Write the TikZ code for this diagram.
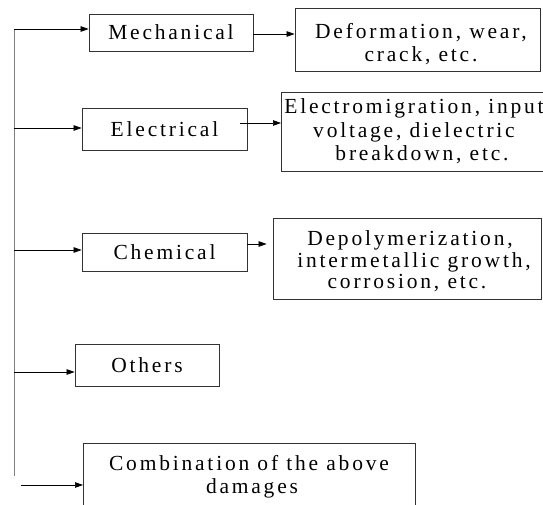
\documentclass[tikz,border=0pt]{standalone}
\usepackage{fontspec}
\setmainfont{Liberation Serif}[LetterSpace=13]
\usetikzlibrary{arrows.meta}
\begin{document}
\begin{tikzpicture}[x=1pt,y=-1pt,
  box/.style={draw=black!80, line width=0.8pt, inner sep=0pt, align=center,
              font=\fontsize{21.5}{22}\selectfont},
  txt/.style={anchor=base, inner sep=0pt, font=\fontsize{21.5}{22}\selectfont},
  arr/.style={-{Triangle[length=8pt,width=5.5pt]}, line width=0.7pt},
  trunkline/.style={draw=black!50, line width=0.8pt}]
\useasboundingbox (0,0) rectangle (543,505);
\fill[white] (0,0) rectangle (543,505);
\clip (0,0) rectangle (543,505);

% damage categories
\node[box, minimum width=164pt, minimum height=37pt] (mech) at (171,32.5) {Mechanical};
\node[box, minimum width=165pt, minimum height=42pt] (elec) at (164.5,129) {Electrical};
\node[box, minimum width=165pt, minimum height=38pt] (chem) at (164.5,252) {Chemical};
\node[box, minimum width=144pt, minimum height=42pt] (oth) at (147,365) {Others};
\node[box, anchor=north west, minimum width=332pt, minimum height=66pt] (comb) at (83,443) {};
\node[txt] (comb1) at (249,470) {Combination of the above};
\node[txt] (comb2) at (252,493) {damages};

% examples of each category
\node[box, minimum width=245pt, minimum height=63pt] (deform) at (417.5,39.5) {};
\node[txt] (deform1) at (421,39) {Deformation, wear,};
\node[txt] (deform2) at (421,62) {crack, etc.};

\node[box, anchor=north west, minimum width=267pt, minimum height=79pt] (elecd) at (281,92) {};
\node[txt] (elecd1) at (414,114) {Electromigration, input};
\node[txt] (elecd2) at (414,138) {voltage, dielectric};
\node[txt] (elecd3) at (422,161) {breakdown, etc.};

\node[box, minimum width=268pt, minimum height=81pt] (chemd) at (407,258.5) {};
\node[txt] (chemd1) at (410,245) {Depolymerization,};
\node[txt] (chemd2) at (414,267) {intermetallic growth,};
\node[txt] (chemd3) at (407,288) {corrosion, etc.};

% vertical trunk and its branches
\coordinate (ttop) at (14,29);
\coordinate (tbot) at (14,476);
\coordinate (b2) at (14,128);
\coordinate (b3) at (14,250);
\coordinate (b4) at (14,372);
\coordinate (b5) at (21,485);
\draw[trunkline] (ttop) -- (tbot);
\draw[arr] (ttop) -- (ttop -| mech.west);
\draw[arr] (b2) -- (b2 -| elec.west);
\draw[arr] (b3) -- (b3 -| chem.west);
\draw[arr] (b4) -- (b4 -| oth.west);
\draw[arr] (b5) -- (b5 -| comb.west);

% category -> examples
\coordinate (m1) at (0,34);
\coordinate (e0) at (240,123);
\coordinate (c1) at (0,244);
\draw[arr] (mech.east |- m1) -- (deform.west |- m1);
\draw[arr] (e0) -- (e0 -| elecd.west);
\draw[arr, shorten >=6pt] (chem.east |- c1) -- (chemd.west |- c1);
\end{tikzpicture}
\end{document}
